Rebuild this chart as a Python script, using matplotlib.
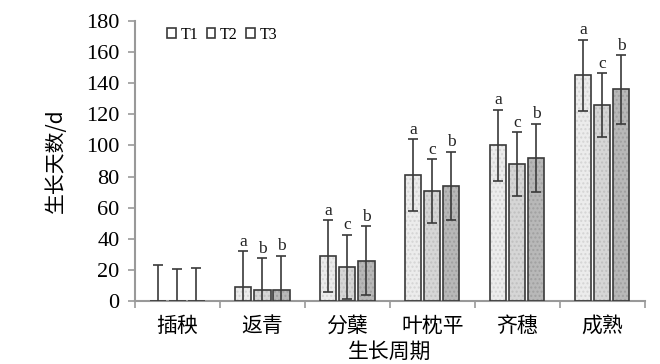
import matplotlib.pyplot as plt
import numpy as np

# 数据
stages = ["插秧", "返青", "分蘖", "叶枕平", "齐穗", "成熟"]
series = ["T1", "T2", "T3"]
t1 = [0, 9, 29, 81, 100, 145]
t2 = [0, 7, 22, 70.5, 88, 126]
t3 = [0, 7, 26, 74, 92, 136]
err1 = [23, 23, 23, 23, 23, 23]
err2 = [20.5, 20.5, 20.5, 20.5, 20.5, 20.5]
err3 = [21.5, 22, 22, 22, 22, 22]
letters1 = ["", "a", "a", "a", "a", "a"]
letters2 = ["", "b", "c", "c", "c", "c"]
letters3 = ["", "b", "b", "b", "b", "b"]

cjk = ["Noto Sans CJK SC", "DejaVu Sans"]
serif = ["Liberation Serif", "DejaVu Serif"]

fig = plt.figure(figsize=(6.6, 3.64), dpi=100)
ax = fig.add_axes([0.2045, 0.173, 0.7725, 0.7695])

x = np.arange(len(stages))
w = 0.19
step = 0.224
colors = ["#ececec", "#d6d6d6", "#b8b8b8"]
hatch_cols = ["#d4d4d4", "#c0c0c0", "#a0a0a0"]
edge = "#3a3a3a"

for i, (vals, errs, labs) in enumerate(zip([t1, t2, t3], [err1, err2, err3],
                                           [letters1, letters2, letters3])):
    pos = x + (i - 1) * step
    ax.bar(pos, vals, w, color=colors[i], edgecolor=hatch_cols[i],
           hatch="....", linewidth=0, zorder=2)
    ax.bar(pos, vals, w, color="none", edgecolor=edge, linewidth=1.2,
           zorder=3, label=series[i])
    ax.errorbar(pos, vals, yerr=errs, fmt="none", ecolor="#3a3a3a",
                elinewidth=1.2, capsize=3.5, capthick=1.2, zorder=4)
    for p, v, e, l in zip(pos, vals, errs, labs):
        if l:
            ax.text(p, v + e + 1.0, l, ha="center", va="bottom",
                    family=serif, fontsize=12.5, color="#222222")

ax.set_xlim(-0.5, len(stages) - 0.5)
ax.set_ylim(0, 180)
ax.set_yticks(range(0, 181, 20))
ax.set_yticklabels([str(v) for v in range(0, 181, 20)], family=serif, fontsize=16)
ax.set_xticks(x)
ax.set_xticklabels(stages, family=cjk, fontsize=15)
ax.set_xticks(np.arange(-0.5, len(stages)), minor=True)
ax.tick_params(axis="x", which="major", length=0, pad=10)
ax.tick_params(axis="x", which="minor", length=5, color="#999999", width=1.2)
ax.tick_params(axis="y", length=5, color="#999999", width=1.2, direction="out",
               pad=6)

for s in ["top", "right"]:
    ax.spines[s].set_visible(False)
for s in ["left", "bottom"]:
    ax.spines[s].set_color("#999999")
    ax.spines[s].set_linewidth(1.5)

ax.set_ylabel("生长天数/d", family=cjk, fontsize=15, labelpad=14)
ax.set_xlabel("生长周期", family=cjk, fontsize=15, labelpad=3)

leg = ax.legend(loc="upper left", bbox_to_anchor=(0.035, 1.03), ncol=3,
                frameon=False, handlelength=0.55, handleheight=0.55,
                handletextpad=0.3, columnspacing=0.5,
                prop={"family": serif, "size": 11.5})

fig.savefig("out.png", dpi=100)
